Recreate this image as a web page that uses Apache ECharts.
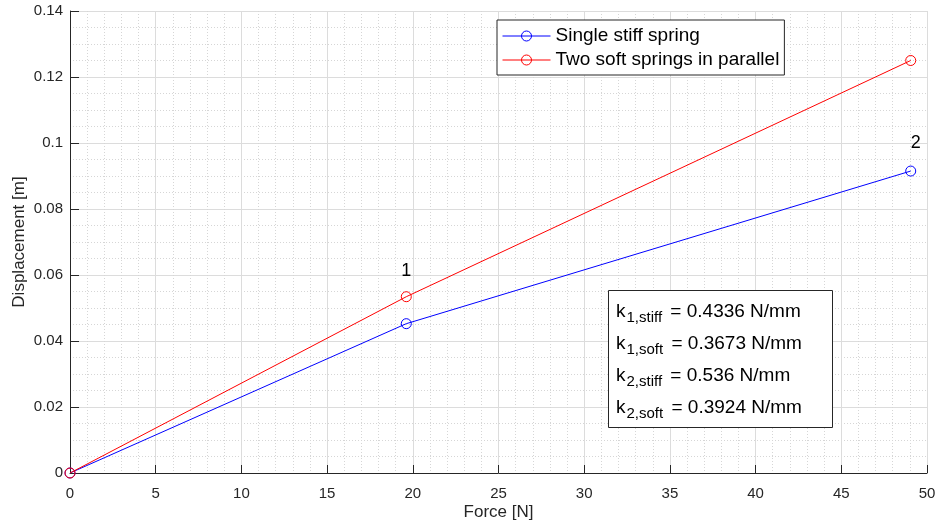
<!DOCTYPE html>
<html>
<head>
<meta charset="utf-8">
<script src="https://cdn.jsdelivr.net/npm/echarts@6/dist/echarts.min.js"></script>
<style>html,body{margin:0;padding:0;background:#fff}#c{width:939px;height:524px}</style>
</head>
<body>
<div id="c"></div>
<script>
const forces = [0, 19.62, 49.05];
const stiffDisp = [0, 0.04525, 0.0915];
const softDisp = [0, 0.05342, 0.125];
const seriesNames = ['Single stiff spring', 'Two soft springs in parallel'];
const pointLabels = ['1', '2'];
const kSubs = ['1,stiff', '1,soft', '2,stiff', '2,soft'];
const kVals = ['0.4336', '0.3673', '0.536', '0.3924'];

const FONT = '"Liberation Sans", Arial, Helvetica, sans-serif';
const AX = '#262626';

function pts(ys) { return forces.map((x, i) => [x, ys[i]]); }

const stiffData = pts(stiffDisp).map((p, i) => i === 2 ? {
  value: p,
  label: { show: true, formatter: pointLabels[1], position: 'top', distance: 14, offset: [5, 0], color: '#000', fontSize: 18, fontFamily: FONT }
} : { value: p });
const softData = pts(softDisp).map((p, i) => i === 1 ? {
  value: p,
  label: { show: true, formatter: pointLabels[0], position: 'top', distance: 11, color: '#000', fontSize: 18, fontFamily: FONT }
} : { value: p });

const boxLines = kSubs.map((s, i) => '{k|k}{s|' + s + '}{v| = ' + kVals[i] + ' N/mm}').join('\n');

const chart = echarts.init(document.getElementById('c'), null, { renderer: 'canvas' });
chart.setOption({
  animation: false,
  backgroundColor: '#fff',
  textStyle: { fontFamily: FONT },
  grid: { left: 70, right: 12, top: 11, bottom: 51, containLabel: false, outerBoundsMode: 'none' },
  xAxis: {
    type: 'value', min: 0, max: 50, interval: 5,
    name: 'Force [N]', nameLocation: 'middle', nameGap: 31, nameMoveOverlap: false,
    nameTextStyle: { color: AX, fontSize: 17, fontFamily: FONT },
    axisLine: { show: true, onZero: false, lineStyle: { color: AX, width: 1 } },
    axisTick: { show: true, inside: true, length: 8, lineStyle: { color: AX } },
    axisLabel: { color: AX, fontSize: 15, margin: 13, fontFamily: FONT },
    splitLine: { show: true, lineStyle: { color: '#dcdcdc', width: 1 } },
    minorTick: { show: false, splitNumber: 5 },
    minorSplitLine: { show: true, lineStyle: { color: '#d6d6d6', width: 1, type: [1, 2] } }
  },
  yAxis: {
    type: 'value', min: 0, max: 0.14, interval: 0.02,
    name: 'Displacement [m]', nameLocation: 'middle', nameGap: 42, nameRotate: 90, nameMoveOverlap: false,
    nameTextStyle: { color: AX, fontSize: 17, fontFamily: FONT },
    axisLine: { show: true, onZero: false, lineStyle: { color: AX, width: 1 } },
    axisTick: { show: true, inside: true, length: 9, lineStyle: { color: AX } },
    axisLabel: { color: AX, fontSize: 15, margin: 7, fontFamily: FONT },
    splitLine: { show: true, lineStyle: { color: '#dcdcdc', width: 1 } },
    minorTick: { show: false, splitNumber: 4 },
    minorSplitLine: { show: true, lineStyle: { color: '#d6d6d6', width: 1, type: [1, 2] } }
  },
  legend: {
    orient: 'vertical', left: 497, top: 20,
    itemWidth: 48, itemHeight: 12.5, itemGap: 0,
    padding: [4, 5, 3, 5],
    backgroundColor: '#fff', borderColor: AX, borderWidth: 1, borderRadius: 0,
    lineStyle: { width: 1 },
    itemStyle: { borderWidth: 1 },
    textStyle: { color: '#000', fontSize: 19, lineHeight: 24, fontFamily: FONT },
    data: seriesNames
  },
  series: [
    {
      name: seriesNames[0], type: 'line', data: stiffData,
      symbol: 'circle', symbolSize: 10, showAllSymbol: true,
      lineStyle: { color: '#0000ff', width: 1 },
      itemStyle: { color: 'rgba(255,255,255,0)', borderColor: '#0000ff', borderWidth: 1 },
      color: '#0000ff', z: 3
    },
    {
      name: seriesNames[1], type: 'line', data: softData,
      symbol: 'circle', symbolSize: 10, showAllSymbol: true,
      lineStyle: { color: '#ff0000', width: 1 },
      itemStyle: { color: 'rgba(255,255,255,0)', borderColor: '#ff0000', borderWidth: 1 },
      color: '#ff0000', z: 4
    }
  ],
  graphic: [
    {
      type: 'rect', left: 608, top: 290, z: 100,
      shape: { width: 224, height: 137 },
      style: { fill: '#fff', stroke: AX, lineWidth: 1 }
    },
    {
      type: 'text', left: 616, top: 302, z: 101,
      style: {
        text: boxLines,
        rich: {
          k: { fontSize: 19, fontFamily: FONT, fill: '#000', lineHeight: 32, verticalAlign: 'middle', padding: [0, 1, 0, 0] },
          s: { fontSize: 15, fontFamily: FONT, fill: '#000', lineHeight: 32, verticalAlign: 'bottom', padding: [0, 3, 2, 0] },
          v: { fontSize: 19, fontFamily: FONT, fill: '#000', lineHeight: 32, verticalAlign: 'middle' }
        }
      }
    }
  ]
});
</script>
</body>
</html>
